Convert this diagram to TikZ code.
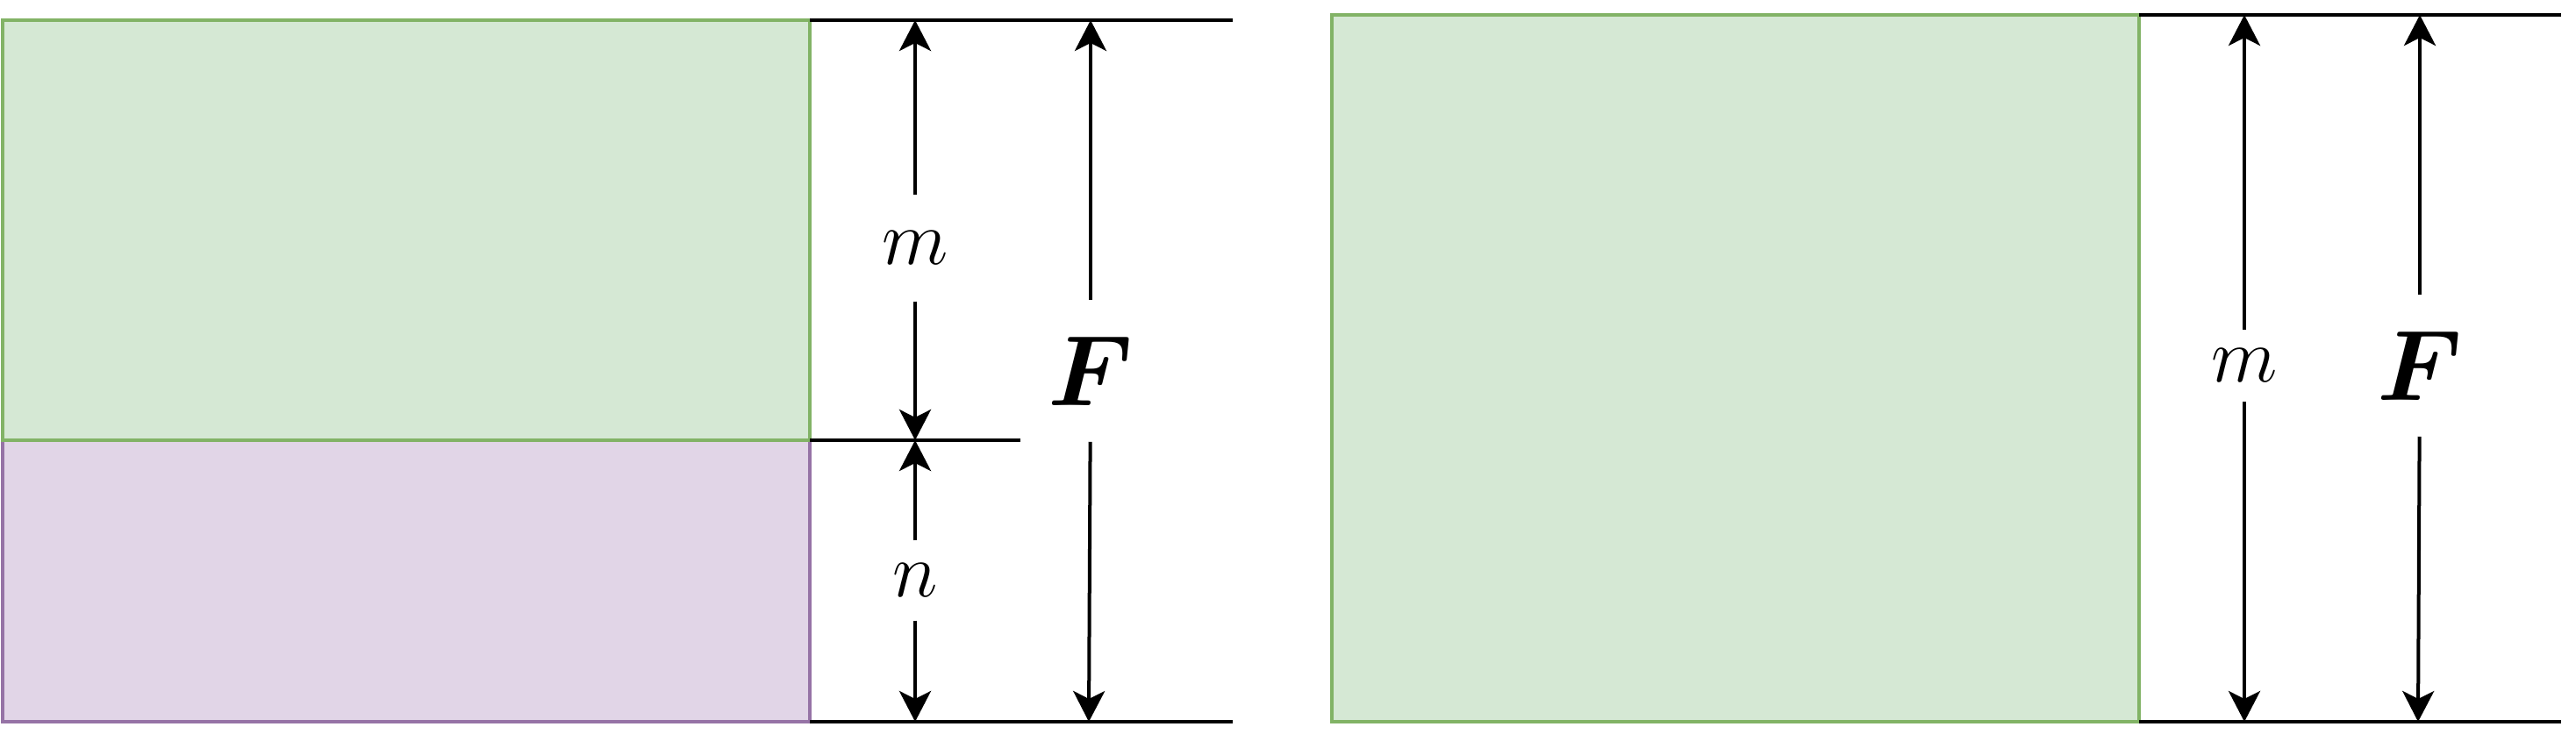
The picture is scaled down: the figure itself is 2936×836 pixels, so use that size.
\RequirePackage{fix-cm}
\documentclass[tikz,border=0pt]{standalone}
\usepackage{bm}
\usetikzlibrary{arrows.meta}
\definecolor{gfill}{HTML}{D5E8D4}
\definecolor{gline}{HTML}{82B366}
\definecolor{pfill}{HTML}{E1D5E7}
\definecolor{pline}{HTML}{9673A6}
\tikzset{
  dimline/.style={line width=0.04cm, draw=black},
  dimarrow/.style={line width=0.04cm, draw=black, -{Stealth[length=0.35cm,width=0.36cm,inset=0.09cm]}},
  greenbox/.style={fill=gfill, draw=gline, line width=0.04cm},
  purplebox/.style={fill=pfill, draw=pline, line width=0.04cm},
  lab/.style={inner sep=0pt, font=\fontsize{25}{30}\selectfont},
  biglab/.style={inner sep=0pt, font=\fontsize{32.5}{38}\selectfont},
}
\begin{document}
\begin{tikzpicture}[x=0.01cm,y=-0.01cm]
\useasboundingbox (0,0) rectangle (2936,836);
% ---------- left diagram ----------
\draw[purplebox] (3,502) rectangle (923,823);
\draw[greenbox] (3,23) rectangle (923,502);
\coordinate (Ltl) at (923,23);
\coordinate (Ltr) at (1405,23);
\coordinate (Lml) at (923,502);
\coordinate (Lmr) at (1163,502);
\coordinate (Lbl) at (923,823);
\coordinate (Lbr) at (1405,823);
\draw[dimline] (Ltl) -- (Ltr);
\draw[dimline] (Lml) -- (Lmr);
\draw[dimline] (Lbl) -- (Lbr);
\node[lab, minimum height=1.2cm] (m1) at (1043,283) {$m$};
\node[lab, minimum height=0.9cm] (n1) at (1043,662) {$n$};
\node[biglab, minimum height=1.6cm] (F1) at (1243,423) {$\bm{F}$};
\coordinate (m1t) at (1043,23);
\coordinate (m1b) at (1043,502);
\coordinate (n1b) at (1043,823);
\coordinate (F1t) at (1243,23);
\coordinate (F1b) at (1241,823);
\draw[dimarrow] (m1) -- (m1t);
\draw[dimarrow] (m1) -- (m1b);
\draw[dimarrow] (n1) -- (m1b);
\draw[dimarrow] (n1) -- (n1b);
\draw[dimarrow] (F1) -- (F1t);
\draw[dimarrow] (F1) -- (F1b);
% ---------- right diagram ----------
\draw[greenbox] (1518,17) rectangle (2438,823);
\coordinate (Rtl) at (2438,17);
\coordinate (Rtr) at (2919,17);
\coordinate (Rbl) at (2438,823);
\coordinate (Rbr) at (2919,823);
\draw[dimline] (Rtl) -- (Rtr);
\draw[dimline] (Rbl) -- (Rbr);
\node[lab, minimum height=0.81cm] (m2) at (2558,417) {$m$};
\node[biglab, minimum height=1.6cm] (F2) at (2758,417) {$\bm{F}$};
\coordinate (m2t) at (2558,17);
\coordinate (m2b) at (2558,823);
\coordinate (F2t) at (2758,17);
\coordinate (F2b) at (2756,823);
\draw[dimarrow] (m2) -- (m2t);
\draw[dimarrow] (m2) -- (m2b);
\draw[dimarrow] (F2) -- (F2t);
\draw[dimarrow] (F2) -- (F2b);
\end{tikzpicture}
\end{document}
